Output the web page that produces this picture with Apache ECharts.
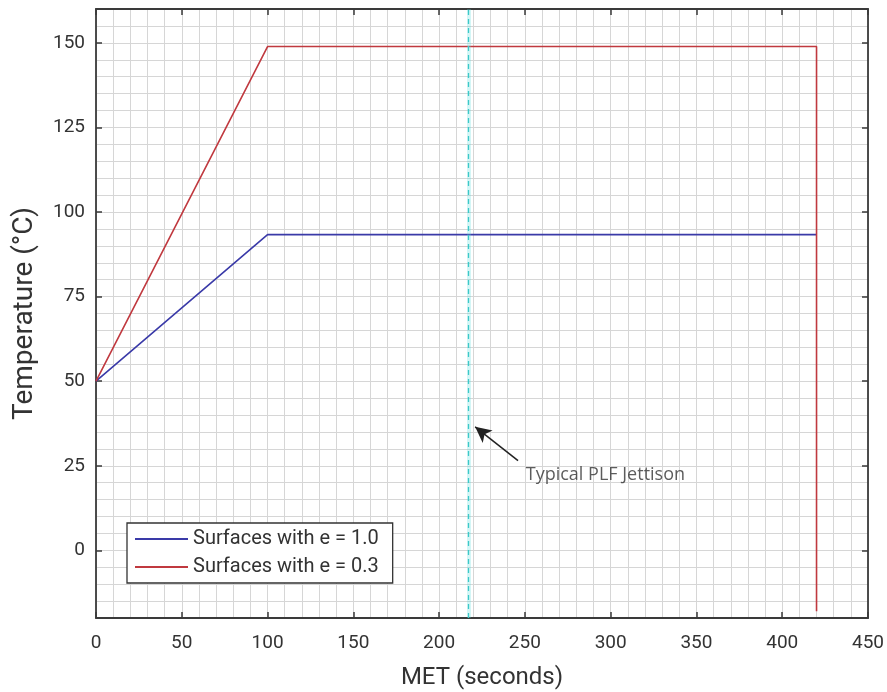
<!DOCTYPE html>
<html><head><meta charset="utf-8">
<script src="https://cdn.jsdelivr.net/npm/echarts@6/dist/echarts.min.js"></script>
<style>html,body{margin:0;padding:0;background:#fff}#c{width:887px;height:692px}</style>
</head><body><div id="c"></div>
<script>
const xTicks = [0, 50, 100, 150, 200, 250, 300, 350, 400, 450];
const yTicks = [0, 25, 50, 75, 100, 125, 150];
const blueName = 'Surfaces with e = 1.0';
const redName = 'Surfaces with e = 0.3';
const blueData = [[0, 50], [100, 93.3], [420, 93.3]];
const redData = [[0, 50], [100, 148.9], [420, 148.9], [420, -18]];
const jettisonX = 217;
const arrowFrom = [246, 26.5];
const arrowTo = [221, 36.5];
const annotText = 'Typical PLF Jettison';
const annotPos = [250.5, 22.3];

const FONT = 'Roboto';
const axisColor = '#3a3a3a';
const gridColor = '#d6d6d6';

function xAx(pos, kind) {
  const main = kind === 'main';
  const grid = kind === 'grid';
  const ax = {
    type: 'value', position: pos, min: 0, max: 450, interval: grid ? 10 : 50,
    axisLine: {show: !grid, onZero: false, lineStyle: {color: axisColor, width: 1.8}},
    axisTick: {show: !grid, inside: true, length: 6, lineStyle: {color: axisColor, width: 1.5}},
    axisLabel: {show: main, color: '#333', fontFamily: FONT, fontSize: 19, margin: 16},
    splitLine: {show: grid, lineStyle: {color: gridColor, width: 1}},
    name: main ? 'MET (seconds)' : '', nameLocation: 'middle', nameGap: 48,
    nameTextStyle: {color: '#333', fontFamily: FONT, fontSize: 24}
  };
  if (!grid) { ax.axisTick.customValues = xTicks; ax.axisLabel.customValues = xTicks; }
  return ax;
}
function yAx(pos, kind) {
  const main = kind === 'main';
  const grid = kind === 'grid';
  const ax = {
    type: 'value', position: pos, min: -20, max: 160, interval: 5,
    axisLine: {show: !grid, onZero: false, lineStyle: {color: axisColor, width: 1.8}},
    axisTick: {show: !grid, inside: true, length: 6, lineStyle: {color: axisColor, width: 1.5}},
    axisLabel: {show: main, color: '#333', fontFamily: FONT, fontSize: 19, margin: 11},
    splitLine: {show: grid, lineStyle: {color: gridColor, width: 1}},
    name: main ? 'Temperature (°C)' : '', nameLocation: 'middle', nameGap: 57,
    nameTextStyle: {color: '#333', fontFamily: FONT, fontSize: 28}
  };
  if (!grid) { ax.axisTick.customValues = yTicks; ax.axisLabel.customValues = yTicks; }
  return ax;
}

const chart = echarts.init(document.getElementById('c'), null, {renderer: 'canvas'});
chart.setOption({
  animation: false,
  backgroundColor: '#fff',
  grid: {left: 96, right: 19, top: 9, bottom: 74, containLabel: false, outerBoundsMode: 'none'},
  xAxis: [xAx('bottom', 'main'), xAx('top', 'mirror'), xAx('bottom', 'grid')],
  yAxis: [yAx('left', 'main'), yAx('right', 'mirror'), yAx('left', 'grid')],
  legend: {
    data: [blueName, redName], orient: 'vertical', left: 127, top: 523,
    icon: 'rect', itemWidth: 53, itemHeight: 2,
    backgroundColor: '#fff', borderColor: '#333', borderWidth: 1.3, borderRadius: 0,
    padding: [6, 14, 6, 8], itemGap: 8,
    textStyle: {color: '#333', fontFamily: FONT, fontSize: 20}
  },
  series: [
    {
      name: 'gridhost', type: 'line', data: [], xAxisIndex: 2, yAxisIndex: 2, silent: true
    },
    {
      name: blueName, type: 'line', data: blueData, symbol: 'none',
      lineStyle: {color: '#3a3aa8', width: 1.6}, itemStyle: {color: '#3a3aa8'}, z: 3,
      markLine: {
        silent: true, symbol: ['none', 'none'], label: {show: false},
        data: [
          {xAxis: jettisonX, lineStyle: {color: 'rgba(80,220,220,0.25)', width: 4, type: 'solid'}},
          {xAxis: jettisonX, lineStyle: {color: '#3cc8c8', width: 1.3, type: [5, 4]}}
        ]
      }
    },
    {
      name: redName, type: 'line', data: redData, symbol: 'none',
      lineStyle: {color: '#c0393f', width: 1.6}, itemStyle: {color: '#c0393f'}, z: 3,
      markLine: {
        silent: true, symbol: ['none', 'arrow'], symbolSize: [12, 16], label: {show: false},
        lineStyle: {color: '#222', width: 1.5, type: 'solid'},
        data: [[{coord: arrowFrom}, {coord: arrowTo}]]
      }
    },
    {
      name: 'annot', type: 'scatter', data: [annotPos], symbolSize: 0, silent: true,
      label: {show: true, position: 'right', distance: 0, formatter: annotText,
        color: '#333', fontFamily: 'Open Sans', fontSize: 18}
    }
  ]
});
</script>
</body></html>
